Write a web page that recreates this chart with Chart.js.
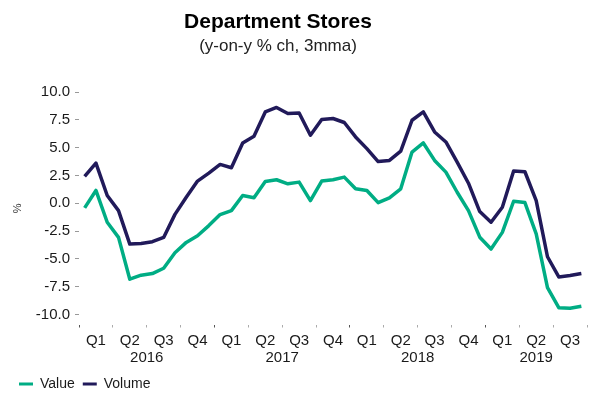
<!DOCTYPE html>
<html lang="en">

<head>
    <meta charset="UTF-8">
    <title>Department Stores</title>
    <script src="https://cdn.jsdelivr.net/npm/chart.js"></script>
    <style>
        body { margin: 0; background: #fff; font-family: "Liberation Sans", Arial, sans-serif; }
        .wrap { position: relative; width: 594px; height: 394px; }
        .heading { position: absolute; left: 0; width: 556px; text-align: center; color: #000; white-space: nowrap; }
        .title { top: 10px; font-size: 21px; line-height: 21px; font-weight: bold; }
        .subtitle { top: 37px; font-size: 17px; line-height: 17px; color: #222; }
        canvas { position: absolute; left: 0; top: 0; }
    </style>
</head>

<body>
    <div class="wrap">
        <canvas id="storesChart" width="594" height="394"></canvas>
        <div class="heading title">Department Stores</div>
        <div class="heading subtitle">(y-on-y % ch, 3mma)</div>
    </div>
    <script>
        // monthly, Jan 2016 - Sep 2019
        const months = [
            '2016-01', '2016-02', '2016-03', '2016-04', '2016-05', '2016-06', '2016-07', '2016-08', '2016-09', '2016-10', '2016-11', '2016-12',
            '2017-01', '2017-02', '2017-03', '2017-04', '2017-05', '2017-06', '2017-07', '2017-08', '2017-09', '2017-10', '2017-11', '2017-12',
            '2018-01', '2018-02', '2018-03', '2018-04', '2018-05', '2018-06', '2018-07', '2018-08', '2018-09', '2018-10', '2018-11', '2018-12',
            '2019-01', '2019-02', '2019-03', '2019-04', '2019-05', '2019-06', '2019-07', '2019-08', '2019-09'
        ];
        const years = ['2016', '2017', '2018', '2019'];
        const quarters = ['Q1', 'Q2', 'Q3', 'Q4'];
        const yTicks = [-10, -7.5, -5, -2.5, 0, 2.5, 5, 7.5, 10];

        const valueSeries = [
            -0.42, 1.15, -1.71, -3.07, -6.83, -6.47, -6.32, -5.84, -4.45, -3.52, -2.92, -2.01,
            -1.02, -0.66, 0.69, 0.49, 1.96, 2.11, 1.75, 1.90, 0.24, 1.99, 2.11, 2.35,
            1.30, 1.15, 0.05, 0.49, 1.30, 4.60, 5.42, 3.85, 2.80, 0.99, -0.66, -3.05,
            -4.12, -2.62, 0.18, 0.06, -2.76, -7.58, -9.39, -9.44, -9.26
        ];
        const volumeSeries = [
            2.41, 3.61, 0.70, -0.66, -3.67, -3.61, -3.46, -3.07, -1.00, 0.54, 1.99, 2.71,
            3.49, 3.19, 5.42, 6.02, 8.21, 8.61, 8.07, 8.12, 6.11, 7.53, 7.62, 7.26,
            5.96, 4.91, 3.75, 3.85, 4.69, 7.46, 8.21, 6.41, 5.51, 3.70, 1.80, -0.75,
            -1.71, -0.36, 2.89, 2.83, 0.24, -4.81, -6.62, -6.50, -6.32
        ];

        const valueColor = '#00ad84';
        const volumeColor = '#211a5a';
        const font = { family: '"Liberation Sans", Arial, sans-serif' };

        // year labels sit in the middle of the months each year covers
        const yearCentres = years.map(y => {
            const first = months.findIndex(m => m.startsWith(y));
            const count = months.filter(m => m.startsWith(y)).length;
            return first + count / 2;
        });

        function quarterLabel(i) {
            return i % 3 === 1 ? quarters[Math.floor(i / 3) % 4] : '';
        }

        // tick marks only on quarter boundaries, darker at the start of a year
        function boundaryColor(ctx) {
            const i = ctx.index === undefined ? months.length : ctx.index;
            if (i % 3 !== 0) return 'rgba(0,0,0,0)';
            return i % 12 === 0 ? '#555' : '#aaa';
        }

        new Chart(document.getElementById('storesChart'), {
            type: 'line',
            data: {
                labels: months,
                datasets: [{
                    label: 'Value',
                    data: valueSeries,
                    borderColor: valueColor,
                    backgroundColor: valueColor,
                    borderWidth: 3.5,
                    borderJoinStyle: 'round',
                    pointRadius: 0,
                    tension: 0,
                    xAxisID: 'x'
                }, {
                    label: 'Volume',
                    data: volumeSeries,
                    borderColor: volumeColor,
                    backgroundColor: volumeColor,
                    borderWidth: 3.5,
                    borderJoinStyle: 'round',
                    pointRadius: 0,
                    tension: 0,
                    xAxisID: 'x'
                }]
            },
            options: {
                responsive: false,
                animation: false,
                layout: { padding: { top: 92, left: 11, right: 7, bottom: -7 } },
                scales: {
                    x: {
                        type: 'category',
                        offset: true,
                        border: { display: false },
                        grid: { drawOnChartArea: false, offset: true, tickLength: 3, color: boundaryColor },
                        ticks: {
                            autoSkip: false, maxRotation: 0, minRotation: 0, padding: 4.5,
                            color: '#1a1a1a', font: { ...font, size: 15 },
                            callback: (v, i) => quarterLabel(i)
                        },
                        afterFit: scale => { scale.height = 27; }
                    },
                    years: {
                        type: 'linear',
                        position: 'bottom',
                        weight: 1,
                        min: 0,
                        max: months.length,
                        border: { display: false },
                        grid: { display: false, drawTicks: false },
                        ticks: {
                            autoSkip: false, maxRotation: 0, minRotation: 0, padding: -2.5,
                            color: '#1a1a1a', font: { ...font, size: 15 },
                            callback: (v, i) => years[i]
                        },
                        afterBuildTicks: scale => { scale.ticks = yearCentres.map(value => ({ value })); },
                        afterFit: scale => { scale.height = 17.5; }
                    },
                    y: {
                        min: -10.9,
                        max: 10,
                        border: { display: false },
                        grid: { drawOnChartArea: false, tickLength: 4, color: '#999' },
                        ticks: {
                            padding: 5, color: '#1a1a1a', font: { ...font, size: 15 },
                            callback: v => v.toFixed(1)
                        },
                        afterBuildTicks: scale => { scale.ticks = yTicks.map(value => ({ value })); },
                        afterFit: scale => { scale.width = 68; },
                        title: {
                            display: true, text: '%', color: '#333',
                            padding: { top: 0, bottom: 4 }, font: { ...font, size: 11 }
                        }
                    }
                },
                plugins: {
                    legend: {
                        position: 'bottom',
                        align: 'start',
                        labels: {
                            boxWidth: 14,
                            boxHeight: 3,
                            padding: 8,
                            color: '#1a1a1a',
                            font: { ...font, size: 14 },
                            generateLabels: chart => Chart.defaults.plugins.legend.labels.generateLabels(chart)
                                .map(item => ({ ...item, fillStyle: item.strokeStyle, lineWidth: 0 }))
                        }
                    },
                    tooltip: { enabled: false }
                }
            }
        });
    </script>
</body>

</html>
